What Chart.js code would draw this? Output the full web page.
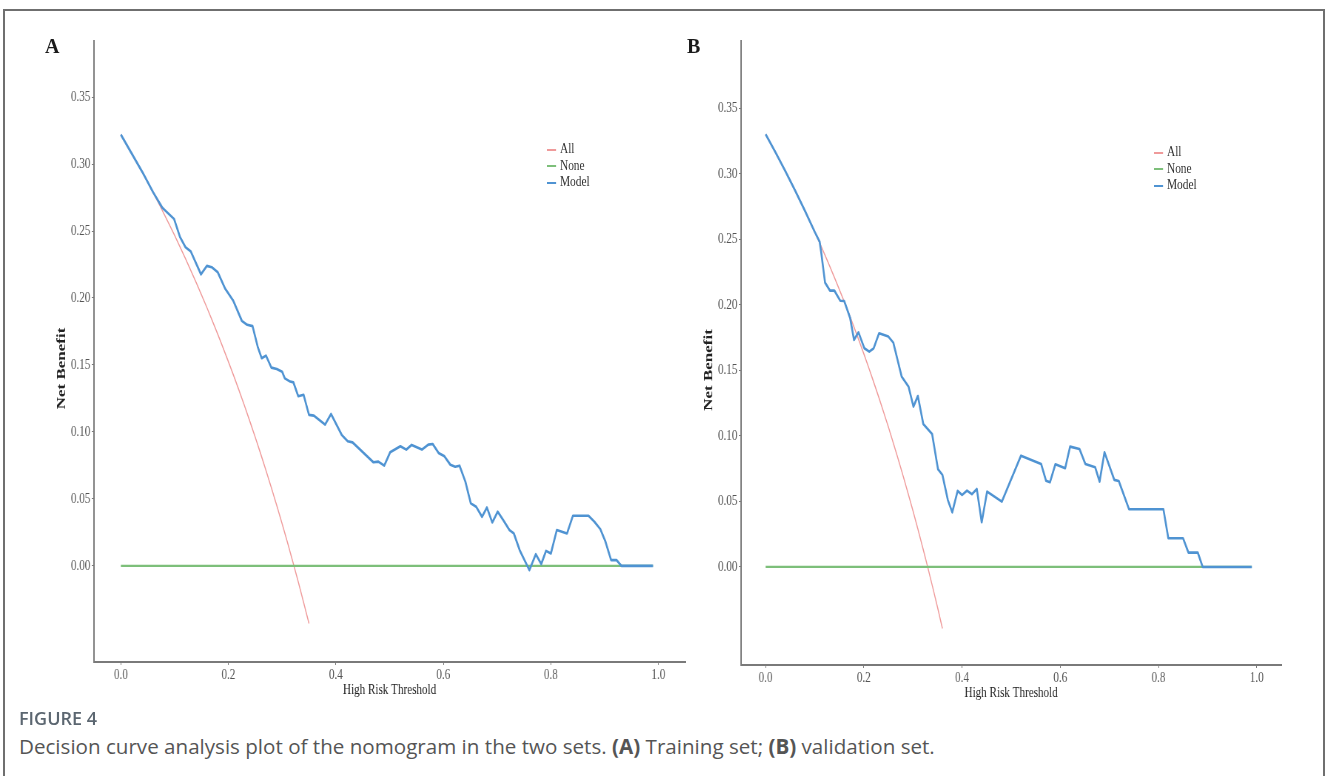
<!DOCTYPE html>
<html>
<head>
<meta charset="utf-8">
<script src="https://cdn.jsdelivr.net/npm/chart.js@4.4.1/dist/chart.umd.min.js"></script>
<style>
  body { margin: 0; background: #fff; }
  #fig { position: relative; width: 1330px; height: 776px; overflow: hidden; background: #fff; }
  #frame { position: absolute; left: 3px; top: 9px; width: 1318px; height: 900px; border: 2px solid #6f6f6f; }
  /* the original figure is squeezed horizontally, so the canvases are too */
  canvas { position: absolute; transform: scaleX(0.74); transform-origin: 0 0; }
  .letter { position: absolute; font-family: "Liberation Serif", serif; font-weight: bold; font-size: 20px; color: #1a1a1a; line-height: 20px; }
  .legend { position: absolute; font-family: "Liberation Serif", serif; font-size: 15px; color: #333; line-height: 16.5px;
            transform: scaleX(0.76); transform-origin: 0 0; white-space: nowrap; }
  .legend .sym { display: inline-block; width: 12px; height: 2px; vertical-align: middle; margin-right: 5px; }
  #capHead { position: absolute; left: 19px; top: 706px; font-family: "Open Sans", sans-serif; font-weight: 600; font-size: 18px; color: #5b6670; }
  #capText { position: absolute; left: 19px; top: 732px; font-family: "Open Sans", sans-serif; font-size: 20.6px; color: #555; white-space: nowrap; }
</style>
</head>
<body>
<div id="fig">
  <div id="frame"></div>
  <canvas id="chartA" width="960" height="710" style="left:0px;top:0px;"></canvas>
  <canvas id="chartB" width="824" height="710" style="left:690px;top:0px;"></canvas>
  <div class="letter" style="left:45px;top:36px;">A</div>
  <div class="letter" style="left:687px;top:36px;">B</div>
  <div class="legend" style="left:547px;top:140px;">
    <div><span class="sym" style="background:#ef9a9a"></span>All</div>
    <div><span class="sym" style="background:#7dbf7a"></span>None</div>
    <div><span class="sym" style="background:#4f93d2"></span>Model</div>
  </div>
  <div class="legend" style="left:1154px;top:143px;">
    <div><span class="sym" style="background:#ef9a9a"></span>All</div>
    <div><span class="sym" style="background:#7dbf7a"></span>None</div>
    <div><span class="sym" style="background:#4f93d2"></span>Model</div>
  </div>
  <div id="capHead">FIGURE 4</div>
  <div id="capText">Decision curve analysis plot of the nomogram in the two sets. <b>(A)</b> Training set; <b>(B)</b> validation set.</div>
</div>
<script>
// tick labels
const xTicks = [0, 0.2, 0.4, 0.6, 0.8, 1.0];
const yTicks = [0, 0.05, 0.10, 0.15, 0.20, 0.25, 0.30, 0.35];

// panel A - training set
const allAX = [0, 0.01, 0.02, 0.03, 0.04, 0.05, 0.06, 0.07, 0.08, 0.09, 0.10, 0.11, 0.12, 0.13, 0.14, 0.15, 0.16, 0.17,
  0.18, 0.19, 0.20, 0.21, 0.22, 0.23, 0.24, 0.25, 0.26, 0.27, 0.28, 0.29, 0.30, 0.31, 0.32, 0.33, 0.34, 0.35];
const allAY = [0.322, 0.3152, 0.3082, 0.3010, 0.2938, 0.2863, 0.2787, 0.2710, 0.2630, 0.2550, 0.2467, 0.2382, 0.2295,
  0.2207, 0.2116, 0.2024, 0.1929, 0.1831, 0.1732, 0.1630, 0.1525, 0.1418, 0.1308, 0.1195, 0.1079, 0.0960, 0.0838,
  0.0712, 0.0583, 0.0451, 0.0314, 0.0174, 0.0029, -0.0119, -0.0273, -0.0431];
const modelAX = [0, 0.02, 0.04, 0.06, 0.077, 0.082, 0.099, 0.110, 0.120, 0.130, 0.149, 0.160, 0.169, 0.180, 0.194,
  0.209, 0.225, 0.235, 0.245, 0.255, 0.262, 0.270, 0.280, 0.290, 0.300, 0.305, 0.315, 0.321, 0.330, 0.340, 0.350,
  0.359, 0.380, 0.391, 0.411, 0.422, 0.431, 0.470, 0.479, 0.490, 0.501, 0.520, 0.531, 0.541, 0.560, 0.572, 0.580,
  0.591, 0.602, 0.613, 0.622, 0.630, 0.641, 0.651, 0.661, 0.672, 0.681, 0.691, 0.701, 0.712, 0.723, 0.731, 0.742,
  0.760, 0.772, 0.782, 0.791, 0.800, 0.811, 0.830, 0.841, 0.870, 0.881, 0.892, 0.901, 0.912, 0.922, 0.931, 0.990];
const modelAY = [0.322, 0.308, 0.294, 0.279, 0.2675, 0.2655, 0.259, 0.2455, 0.238, 0.2348, 0.2177, 0.224, 0.223,
  0.2194, 0.207, 0.198, 0.183, 0.180, 0.179, 0.163, 0.155, 0.157, 0.148, 0.147, 0.145, 0.140, 0.1376, 0.137, 0.1266,
  0.1277, 0.1127, 0.1122, 0.1055, 0.1134, 0.0977, 0.093, 0.0922, 0.0773, 0.0778, 0.0748, 0.0848, 0.0893, 0.0868,
  0.0903, 0.0868, 0.0905, 0.091, 0.0843, 0.0818, 0.0755, 0.074, 0.0748, 0.0628, 0.0466, 0.0441, 0.0366, 0.0436,
  0.0324, 0.0404, 0.0337, 0.0267, 0.0242, 0.0117, -0.0032, 0.0087, 0.0013, 0.0112, 0.0092, 0.0267, 0.0242, 0.0374,
  0.0374, 0.0329, 0.0274, 0.0187, 0.0043, 0.0043, 0, 0];

// panel B - validation set
const allBX = [0, 0.01, 0.02, 0.03, 0.04, 0.05, 0.06, 0.07, 0.08, 0.09, 0.10, 0.11, 0.12, 0.13, 0.14, 0.15, 0.16, 0.17,
  0.18, 0.19, 0.20, 0.21, 0.22, 0.23, 0.24, 0.25, 0.26, 0.27, 0.28, 0.29, 0.30, 0.31, 0.32, 0.33, 0.34, 0.35, 0.36];
const allBY = [0.330, 0.3232, 0.3163, 0.3093, 0.3021, 0.2947, 0.2872, 0.2796, 0.2717, 0.2637, 0.2556, 0.2472, 0.2386,
  0.2299, 0.2209, 0.2118, 0.2024, 0.1928, 0.1829, 0.1728, 0.1625, 0.1519, 0.1410, 0.1299, 0.1184, 0.1067, 0.0946,
  0.0822, 0.0694, 0.0563, 0.0429, 0.0290, 0.0147, 0, -0.0152, -0.0308, -0.0469];
const modelBX = [0, 0.02, 0.04, 0.06, 0.08, 0.10, 0.110, 0.113, 0.121, 0.131, 0.140, 0.152, 0.160, 0.172, 0.180,
  0.189, 0.201, 0.211, 0.220, 0.231, 0.250, 0.260, 0.277, 0.291, 0.301, 0.310, 0.321, 0.339, 0.351, 0.360, 0.371,
  0.380, 0.391, 0.400, 0.410, 0.420, 0.430, 0.440, 0.451, 0.481, 0.520, 0.561, 0.571, 0.579, 0.590, 0.610, 0.620,
  0.639, 0.651, 0.671, 0.680, 0.690, 0.710, 0.719, 0.740, 0.810, 0.820, 0.850, 0.861, 0.880, 0.890, 0.990];
const modelBY = [0.330, 0.3163, 0.3021, 0.2872, 0.2717, 0.2556, 0.248, 0.2405, 0.2169, 0.2108, 0.2108, 0.2031, 0.2029,
  0.190, 0.1732, 0.179, 0.1668, 0.1642, 0.1668, 0.1783, 0.1757, 0.1711, 0.1452, 0.1375, 0.1223, 0.1304, 0.1091,
  0.1014, 0.0745, 0.0702, 0.0511, 0.0417, 0.058, 0.0549, 0.0582, 0.0555, 0.0595, 0.0341, 0.0575, 0.0498, 0.0849,
  0.0786, 0.0658, 0.0646, 0.0783, 0.0753, 0.0918, 0.090, 0.0786, 0.076, 0.0651, 0.0875, 0.0664, 0.0656, 0.044,
  0.044, 0.0219, 0.0219, 0.0109, 0.0109, 0, 0];

// treat none
const noneX = [0, 0.99];
const noneY = [0, 0];

const colAll = "#ef9a9a";
const colNone = "#7dbf7a";
const colModel = "#4f93d2";
const axisGray = "#7a7a7a";
const serif = "'Liberation Serif', 'Times New Roman', serif";
// trailing spaces push the rotated title a bit down, as in the original
const yTitle = "Net Benefit" + "\u00a0".repeat(8);

function pts(xs, ys) {
  return xs.map((x, i) => ({ x: x, y: ys[i] }));
}

function makeChart(id, allX, allY, modelX, modelY, yMin, yMax, pad) {
  const ctx = document.getElementById(id).getContext("2d");
  return new Chart(ctx, {
    type: "line",
    data: {
      datasets: [
        { label: "All", data: pts(allX, allY), borderColor: colAll, borderWidth: 1.4, order: 3 },
        { label: "None", data: pts(noneX, noneY), borderColor: colNone, borderWidth: 2.2, order: 2 },
        { label: "Model", data: pts(modelX, modelY), borderColor: colModel, borderWidth: 2.6, order: 1 }
      ]
    },
    options: {
      responsive: false,
      animation: false,
      devicePixelRatio: 1,
      layout: { padding: pad },
      elements: { point: { radius: 0 }, line: { tension: 0, borderJoinStyle: "round" } },
      plugins: { legend: { display: false }, tooltip: { enabled: false } },
      scales: {
        x: {
          type: "linear",
          min: -0.05,
          max: 1.05,
          afterBuildTicks: s => { s.ticks = xTicks.map(v => ({ value: v })); },
          afterFit: s => { s.height = 40; },
          border: { display: true, color: axisGray, width: 2 },
          grid: { drawOnChartArea: false, drawTicks: true, tickLength: 3, color: axisGray },
          ticks: { color: "#555", padding: 1, maxRotation: 0, font: { family: serif, size: 15 },
                   callback: v => v.toFixed(1) },
          title: { display: true, text: "High Risk Threshold", color: "#222", padding: { top: 0, bottom: 3 },
                   font: { family: serif, size: 15 } }
        },
        y: {
          type: "linear",
          min: yMin,
          max: yMax,
          afterBuildTicks: s => { s.ticks = yTicks.map(v => ({ value: v })); },
          afterFit: s => { s.width = 60; },
          border: { display: true, color: axisGray, width: 2 },
          grid: { drawOnChartArea: false, drawTicks: true, tickLength: 3, color: axisGray },
          ticks: { color: "#555", padding: 2, font: { family: serif, size: 15 },
                   callback: v => v.toFixed(2) },
          title: { display: true, text: yTitle, color: "#222", padding: { top: 6, bottom: 0 },
                   font: { family: serif, size: 17, weight: "bold" } }
        }
      }
    }
  });
}

makeChart("chartA", allAX, allAY, modelAX, modelAY, -0.0718, 0.3919, { left: 67, right: 34, top: 41, bottom: 8 });
makeChart("chartB", allBX, allBY, modelBX, modelBY, -0.0748, 0.4012, { left: 9, right: 25, top: 41, bottom: 5 });
</script>
</body>
</html>
